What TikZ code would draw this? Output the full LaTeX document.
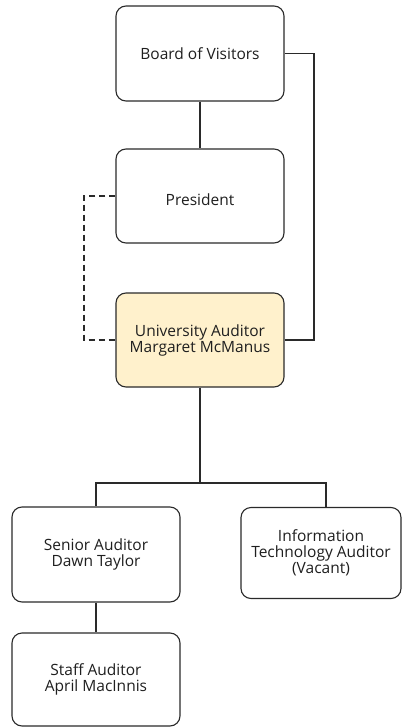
\documentclass[tikz,border=0pt]{standalone}
\usepackage{fontspec}
\setmainfont{Open Sans}
\definecolor{edge}{HTML}{2A2A2A}
\definecolor{audfill}{HTML}{FFF1CC}
\begin{document}
\begin{tikzpicture}[x=1pt,y=-1pt,
  orgbox/.style={draw=edge,line width=1.1pt,rounded corners=10pt,fill=white,
    minimum width=168pt,minimum height=95pt,align=center,inner sep=0pt,
    font=\fontsize{15.5}{16}\selectfont,text=black!88},
  link/.style={draw=edge,line width=1.1pt},
  dlink/.style={link,dash pattern=on 6pt off 4pt}]
\useasboundingbox (0,0) rectangle (402,727);
\node[orgbox] (bov) at (200,53.5) {Board of Visitors};
\node[orgbox,minimum height=94pt] (pres) at (200,196) {};
\node (prest) at (200,200) [font=\fontsize{15.5}{16}\selectfont,text=black!88] {President};
\node[orgbox,fill=audfill,minimum height=94pt] (aud) at (200,340) {University Auditor\\Margaret McManus};
\node[orgbox] (sen) at (96,554.5) {Senior Auditor\\Dawn Taylor};
\node[orgbox,minimum width=160pt,minimum height=91pt] (ita) at (321,553) {Information\\Technology Auditor\\(Vacant)};
\node[orgbox,minimum height=93pt] (stf) at (96,679.5) {Staff Auditor\\April MacInnis};
\coordinate (r1) at (314,53.5);
\coordinate (r2) at (314,340);
\coordinate (l1) at (84,196);
\coordinate (l2) at (84,340);
\coordinate (bus) at (200,483);
\coordinate (busl) at (96,483);
\coordinate (busr) at (326,483);
\coordinate (itt) at (326,507.5);
\draw[link] (bov.south) -- (pres.north);
\draw[link] (bov.east) -- (r1) -- (r2) -- (aud.east);
\draw[dlink] (pres.west) -- (l1) -- (l2) -- (aud.west);
\draw[link] (aud.south) -- (bus) -- (busl) -- (sen.north);
\draw[link] (bus) -- (busr) -- (itt);
\draw[link] (sen.south) -- (stf.north);
\end{tikzpicture}
\end{document}
